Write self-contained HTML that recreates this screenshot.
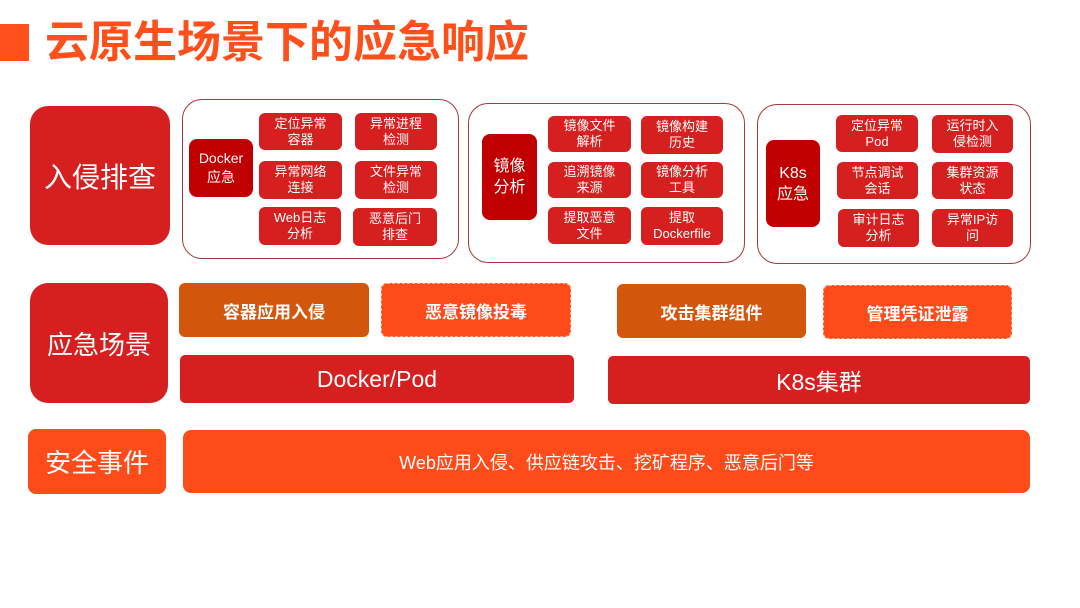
<!DOCTYPE html>
<html><head><meta charset="utf-8"><style>
*{margin:0;padding:0;box-sizing:border-box}
body{width:1080px;height:608px;background:#fff;position:relative;overflow:hidden;font-family:"Liberation Sans","Noto Sans CJK SC",sans-serif}
.a{position:absolute;display:flex;align-items:center;justify-content:center;text-align:center;color:#fff}
.g{position:absolute;border:1.5px solid #a8383a;border-radius:20px}
.s{background:#d62020;border-radius:6px;font-size:13px;line-height:16px}
.d{background:#c00000;border-radius:8px;font-size:14px;line-height:19px}
.big{background:#d62020;border-radius:18px;font-size:28px}
.o1{background:#d2560c;border-radius:6px;font-size:17px;font-weight:bold}
.o2{background:#ff4a1a;border-radius:6px;font-size:17px;font-weight:bold;border:1px dashed #ffb090}
</style></head><body>
<div style="position:absolute;left:0;top:24px;width:29px;height:37px;background:#ff4f1a"></div>
<div style="position:absolute;left:45px;top:18px;font-size:44px;font-weight:bold;color:#ff4f1a;line-height:50px;white-space:nowrap">云原生场景下的应急响应</div>

<div class="a big" style="left:30px;top:106px;width:140px;height:139px">入侵排查</div>
<div class="g" style="left:182px;top:99px;width:277px;height:160px"></div>
<div class="a d" style="left:189px;top:139px;width:64px;height:58px">Docker<br>应急</div>
<div class="a s" style="left:259px;top:113px;width:83px;height:37px">定位异常<br>容器</div>
<div class="a s" style="left:355px;top:113px;width:82px;height:37px">异常进程<br>检测</div>
<div class="a s" style="left:259px;top:161px;width:83px;height:38px">异常网络<br>连接</div>
<div class="a s" style="left:355px;top:161px;width:82px;height:38px">文件异常<br>检测</div>
<div class="a s" style="left:259px;top:207px;width:82px;height:38px">Web日志<br>分析</div>
<div class="a s" style="left:353px;top:208px;width:84px;height:38px">恶意后门<br>排查</div>

<div class="g" style="left:468px;top:103px;width:277px;height:160px"></div>
<div class="a d" style="left:482px;top:134px;width:55px;height:86px;font-size:16px;line-height:21px">镜像<br>分析</div>
<div class="a s" style="left:548px;top:116px;width:83px;height:36px">镜像文件<br>解析</div>
<div class="a s" style="left:641px;top:116px;width:82px;height:38px">镜像构建<br>历史</div>
<div class="a s" style="left:548px;top:162px;width:83px;height:36px">追溯镜像<br>来源</div>
<div class="a s" style="left:641px;top:162px;width:82px;height:36px">镜像分析<br>工具</div>
<div class="a s" style="left:548px;top:207px;width:83px;height:37px">提取恶意<br>文件</div>
<div class="a s" style="left:641px;top:207px;width:82px;height:38px">提取<br>Dockerfile</div>

<div class="g" style="left:757px;top:104px;width:274px;height:160px"></div>
<div class="a d" style="left:766px;top:140px;width:54px;height:87px;font-size:16px;line-height:21px">K8s<br>应急</div>
<div class="a s" style="left:836px;top:115px;width:82px;height:37px">定位异常<br>Pod</div>
<div class="a s" style="left:932px;top:115px;width:81px;height:38px">运行时入<br>侵检测</div>
<div class="a s" style="left:837px;top:162px;width:81px;height:37px">节点调试<br>会话</div>
<div class="a s" style="left:932px;top:162px;width:81px;height:37px">集群资源<br>状态</div>
<div class="a s" style="left:838px;top:209px;width:81px;height:38px">审计日志<br>分析</div>
<div class="a s" style="left:932px;top:209px;width:81px;height:38px">异常IP访<br>问</div>

<div class="a big" style="left:30px;top:283px;width:138px;height:120px;font-size:26px">应急场景</div>
<div class="a o1" style="left:179px;top:283px;width:190px;height:54px">容器应用入侵</div>
<div class="a o2" style="left:381px;top:283px;width:190px;height:54px">恶意镜像投毒</div>
<div class="a o1" style="left:617px;top:284px;width:189px;height:54px">攻击集群组件</div>
<div class="a o2" style="left:823px;top:285px;width:189px;height:54px">管理凭证泄露</div>
<div class="a" style="left:180px;top:355px;width:394px;height:48px;background:#d62020;border-radius:5px;font-size:23px">Docker/Pod</div>
<div class="a" style="left:608px;top:356px;width:422px;height:48px;background:#d62020;border-radius:5px;font-size:23px">K8s集群</div>

<div class="a" style="left:28px;top:429px;width:138px;height:65px;background:#ff4a1a;border-radius:8px;font-size:26px">安全事件</div>
<div class="a" style="left:183px;top:430px;width:847px;height:63px;background:#ff4a1a;border-radius:8px;font-size:18px">Web应用入侵、供应链攻击、挖矿程序、恶意后门等</div>
</body></html>
